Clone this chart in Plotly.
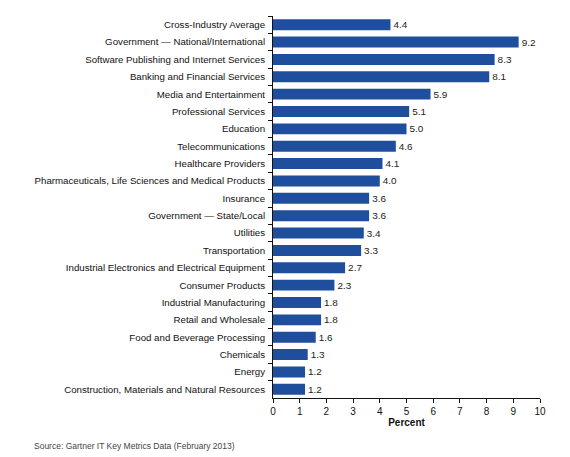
import plotly.graph_objects as go

industries = [
    "Cross-Industry Average",
    "Government — National/International",
    "Software Publishing and Internet Services",
    "Banking and Financial Services",
    "Media and Entertainment",
    "Professional Services",
    "Education",
    "Telecommunications",
    "Healthcare Providers",
    "Pharmaceuticals, Life Sciences and Medical Products",
    "Insurance",
    "Government — State/Local",
    "Utilities",
    "Transportation",
    "Industrial Electronics and Electrical Equipment",
    "Consumer Products",
    "Industrial Manufacturing",
    "Retail and Wholesale",
    "Food and Beverage Processing",
    "Chemicals",
    "Energy",
    "Construction, Materials and Natural Resources",
]
percent = [4.4, 9.2, 8.3, 8.1, 5.9, 5.1, 5.0, 4.6, 4.1, 4.0, 3.6, 3.6,
           3.4, 3.3, 2.7, 2.3, 1.8, 1.8, 1.6, 1.3, 1.2, 1.2]
x_ticks = list(range(0, 11))

FONT = "Liberation Sans, Arial, sans-serif"
BAR_COLOR = "#1f4e9c"

# page body adds ~8px offset, so the figure is a bit smaller than the window
W, H = 554, 446
L, R, T, B = 265, 22, 8, 56
PLOT_W = W - L - R
PLOT_H = H - T - B

fig = go.Figure(
    go.Bar(
        x=percent,
        y=industries,
        orientation="h",
        marker={"color": BAR_COLOR, "line": {"width": 0}},
        text=[f"{v:.1f}" for v in percent],
        textposition="outside",
        textfont={"size": 10, "color": "#222"},
        cliponaxis=False,
    )
)

fig.update_layout(
    width=W,
    height=H,
    paper_bgcolor="white",
    plot_bgcolor="white",
    font={"family": FONT, "color": "#111", "size": 9.7},
    margin={"l": L, "r": R, "t": T, "b": B},
    bargap=0.37,
    showlegend=False,
    annotations=[
        {
            "text": "Source: Gartner IT Key Metrics Data (February 2013)",
            "xref": "paper", "yref": "paper",
            "x": (24 - L) / PLOT_W, "y": -48 / PLOT_H,
            "xanchor": "left", "yanchor": "middle",
            "showarrow": False,
            "font": {"size": 8.5, "color": "#444"},
        }
    ],
)

fig.update_xaxes(
    range=[0, 10],
    tickvals=x_ticks,
    ticks="outside",
    ticklen=4,
    tickcolor="#111",
    showline=True,
    linecolor="#111",
    linewidth=1,
    showgrid=False,
    zeroline=False,
    tickfont={"size": 10},
    title={"text": "<b>Percent</b>", "font": {"size": 10}, "standoff": 0},
)
fig.update_yaxes(
    autorange="reversed",
    ticks="outside",
    tickson="boundaries",
    ticklen=4,
    tickcolor="#111",
    showline=True,
    linecolor="#111",
    linewidth=1,
    showgrid=False,
    ticklabelstandoff=5,
    tickfont={"size": 9.7},
)

fig.write_html("out.html")
